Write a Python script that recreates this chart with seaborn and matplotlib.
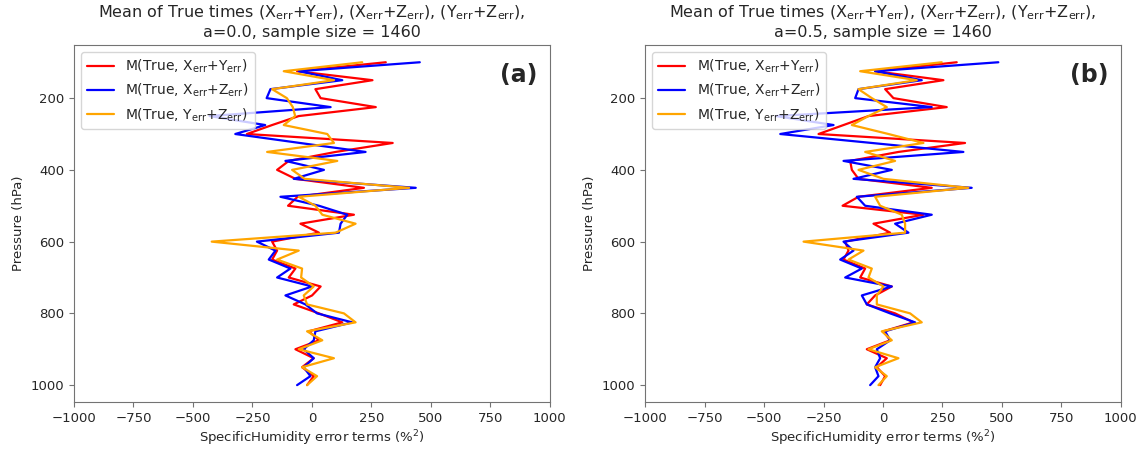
import pandas as pd
import matplotlib
matplotlib.use("Agg")
import matplotlib.pyplot as plt
import seaborn as sns

# pressure levels (hPa)
levels = [100, 125, 150, 175, 200, 225, 250, 275, 300, 325, 350, 375, 400,
          425, 450, 475, 500, 525, 550, 575, 600, 625, 650, 675, 700, 725,
          750, 775, 800, 825, 850, 875, 900, 925, 950, 975, 1000]

# panel (a), a=0.0
a_xy = [311, -62, 255, 15, 37, 269, -55, -167, -273, 340, 100, -97, -146,
        -69, 219, -60, -100, 177, -48, 30, -167, -146, -167, -69, -97, 37,
        1, -76, 30, 128, -13, 30, -69, 8, -41, 8, -20]
a_xz = [454, -55, 128, -174, -190, 79, -430, -196, -322, -50, 226, -111, 51,
        -76, 437, -132, 30, 149, 121, 114, -231, -153, -181, -90, -146, 1,
        -111, -27, 22, 170, 15, 8, -34, 8, -34, -6, -62]
a_yz = [212, -118, 93, -167, -105, -80, -70, -118, 65, 93, -188, 107, -83,
        -30, 409, -55, 15, 44, 184, 100, -421, -55, -146, -41, -45, 8,
        -34, -20, 135, 184, -20, 44, -55, 93, -41, 22, -20]

# panel (b), a=0.5
b_xy = [310, -33, 254, 9, 44, 268, -61, -166, -271, 345, 65, -138, -131,
        -103, 205, -103, -170, 170, -40, 30, -159, -145, -166, -75, -96, 37,
        -33, -68, 51, 128, 2, 30, -68, 16, -26, 9, -12]
b_xz = [485, -33, 163, -103, -117, 205, -450, -208, -432, -47, 338, -166, 37,
        -124, 373, -110, -75, 205, 51, 107, -166, -124, -180, -89, -159, 37,
        -89, -68, 30, 135, 9, 30, -26, -12, -33, -19, -54]
b_yz = [247, -96, 142, -103, -47, 16, -61, -131, 23, 170, -75, 51, -103,
        2, 359, -33, -12, 79, 93, 93, -334, -82, -145, -47, -61, 2,
        -26, -26, 114, 163, -5, 37, -61, 65, -33, 16, -19]

labels = [r"M(True, X$_{\mathrm{err}}$+Y$_{\mathrm{err}}$)",
          r"M(True, X$_{\mathrm{err}}$+Z$_{\mathrm{err}}$)",
          r"M(True, Y$_{\mathrm{err}}$+Z$_{\mathrm{err}}$)"]
colors = ["red", "blue", "orange"]

sns.set_style("ticks", {"axes.edgecolor": "0.45", "xtick.color": "0.45",
                        "ytick.color": "0.45"})
plt.rcParams["font.family"] = ["DejaVu Sans"]
plt.rcParams["xtick.labelcolor"] = "0.15"
plt.rcParams["ytick.labelcolor"] = "0.15"
plt.rcParams["xtick.labelsize"] = 9.5
plt.rcParams["ytick.labelsize"] = 9.5

fig = plt.figure(figsize=(11.46, 4.49), dpi=100)
ax_a = fig.add_axes([0.0646, 0.1047, 0.415, 0.795])
ax_b = fig.add_axes([0.563, 0.1047, 0.415, 0.795])

panels = [(ax_a, [a_xy, a_xz, a_yz], "0.0", "(a)"),
          (ax_b, [b_xy, b_xz, b_yz], "0.5", "(b)")]

for ax, series, a_val, tag in panels:
    for vals, lab, col in zip(series, labels, colors):
        df = pd.DataFrame({"err": vals, "p": levels})
        sns.lineplot(data=df, x="err", y="p", orient="y", estimator=None,
                     color=col, label=lab, linewidth=1.6, ax=ax)
    ax.set_xlim(-1000, 1000)
    ax.set_ylim(1047, 52)
    ax.set_xticks([-1000, -750, -500, -250, 0, 250, 500, 750, 1000])
    ax.set_yticks([200, 400, 600, 800, 1000])
    ax.set_xlabel(r"SpecificHumidity error terms (%$^2$)", fontsize=9.5,
                  labelpad=3)
    ax.set_ylabel("Pressure (hPa)", fontsize=9.5)
    ax.set_title("Mean of True times (X$_{\\mathrm{err}}$+Y$_{\\mathrm{err}}$), "
                 "(X$_{\\mathrm{err}}$+Z$_{\\mathrm{err}}$), "
                 "(Y$_{\\mathrm{err}}$+Z$_{\\mathrm{err}}$),\n"
                 f"a={a_val}, sample size = 1460", fontsize=11.5)
    ax.legend(loc="upper left", fontsize=10)
    ax.text(0.975, 0.95, tag, transform=ax.transAxes, ha="right", va="top",
            fontsize=17, fontweight="bold")

fig.savefig("out.png", dpi=100)
